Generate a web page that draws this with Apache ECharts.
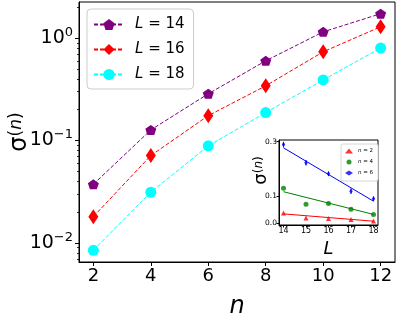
<!DOCTYPE html>
<html><head><meta charset="utf-8">
<script src="https://cdn.jsdelivr.net/npm/echarts@6/dist/echarts.min.js"></script>
<style>html,body{margin:0;padding:0;background:#fff}#c{width:398px;height:313px}</style>
</head><body><div id="c"></div>
<script>
// ---- main plot data ----
const nValues = [2, 4, 6, 8, 10, 12];
const sigmaL14 = [0.0374, 0.127, 0.286, 0.60, 1.15, 1.73];
const sigmaL16 = [0.0181, 0.0714, 0.175, 0.342, 0.735, 1.29];
const sigmaL18 = [0.0085, 0.0313, 0.0888, 0.1875, 0.391, 0.80];
const mainLegend = ['14', '16', '18'];
const xTicks = [2, 4, 6, 8, 10, 12];
const yDecades = [-2, -1, 0];
// ---- inset data ----
const Lvalues = [14, 15, 16, 17, 18];
const insetN2 = [0.036, 0.018, 0.016, 0.012, 0.007];
const insetN4 = [0.128, 0.069, 0.071, 0.050, 0.031];
const insetN6 = [0.289, 0.222, 0.181, 0.117, 0.089];
const insetN6err = [0.010, 0.010, 0.008, 0.010, 0.008];
const fitL = [14, 18];
const fitN2 = [0.033, 0.006];
const fitN4 = [0.115, 0.031];
const fitN6 = [0.277, 0.080];
const insetXTicks = [14, 15, 16, 17, 18];
const insetYTicks = [0, 0.1, 0.3];
const insetLegend = ['2', '4', '6'];

const lg = Math.log10;
const toLog = arr => arr.map((v, i) => [nValues[i], lg(v)]);
const pair = (xs, ys) => ys.map((v, i) => [xs[i], v]);
const minor = [];
for (let d = -3; d <= 0; d++) for (let k = 2; k <= 9; k++) {
  const v = lg(k * Math.pow(10, d));
  if (v > lg(0.00653) && v < lg(2.25)) minor.push(v);
}
const FONT = 'DejaVu Sans';
const pentagon = 'path://M0,-1 L0.951,-0.309 L0.588,0.809 L-0.588,0.809 L-0.951,-0.309 Z';

const chart = echarts.init(document.getElementById('c'), null, {renderer: 'canvas'});
chart.setOption({
  animation: false,
  textStyle: {fontFamily: FONT, color: '#000'},
  grid: [
    {left: 79, top: 2, right: 3, bottom: 51, show: true, borderColor: '#000', borderWidth: 1, backgroundColor: '#fff',
     containLabel: false, outerBoundsMode: 'none'},
    {left: 279, top: 140, width: 99, height: 85, show: true, borderColor: '#000', borderWidth: 1, backgroundColor: '#fff', z: 5,
     containLabel: false, outerBoundsMode: 'none'}
  ],
  xAxis: [
    {gridIndex: 0, type: 'value', min: 1.5, max: 12.5, nameMoveOverlap: false,
     axisLine: {onZero: false, lineStyle: {color: '#000', width: 1}},
     axisTick: {length: 4, lineStyle: {color: '#000'}, customValues: xTicks},
     axisLabel: {fontSize: 18, color: '#000', margin: 5, customValues: xTicks},
     splitLine: {show: false},
     name: 'n', nameLocation: 'middle', nameGap: 33,
     nameTextStyle: {fontSize: 24, fontStyle: 'italic', color: '#000'}},
    {gridIndex: 1, type: 'value', min: 13.8, max: 18.2, z: 6, nameMoveOverlap: false,
     axisLine: {onZero: false, lineStyle: {color: '#000', width: 1}},
     axisTick: {length: 2.5, lineStyle: {color: '#000'}, customValues: insetXTicks},
     axisLabel: {fontSize: 8, color: '#000', margin: 2, customValues: insetXTicks},
     splitLine: {show: false},
     name: 'L', nameLocation: 'middle', nameGap: 15,
     nameTextStyle: {fontSize: 18, fontStyle: 'italic', color: '#000'}}
  ],
  yAxis: [
    {gridIndex: 0, type: 'value', position: 'left', min: lg(0.00653), max: lg(2.25), nameMoveOverlap: false,
     axisLine: {show: true, onZero: false, lineStyle: {color: '#000', width: 1}},
     axisTick: {show: true, length: 4, lineStyle: {color: '#000'}, customValues: yDecades},
     axisLabel: {margin: 6, customValues: yDecades,
       formatter: v => '{b|10}{e|' + (Math.round(v) < 0 ? '\u2212' : '') + Math.abs(Math.round(v)) + '}',
       rich: {b: {fontSize: 19, fontFamily: FONT, color: '#000'},
              e: {fontSize: 13, fontFamily: FONT, color: '#000', padding: [0, 0, 11, 0]}}},
     splitLine: {show: false},
     name: '{s|\u03c3}{p|(}{i|n}{p|)}', nameLocation: 'middle', nameGap: 47, nameRotate: 90,
     nameTextStyle: {rich: {
       s: {fontSize: 24, fontFamily: FONT, color: '#000'},
       p: {fontSize: 17, fontFamily: FONT, color: '#000', padding: [0, 0, 6, 0]},
       i: {fontSize: 17, fontFamily: FONT, fontStyle: 'italic', color: '#000', padding: [0, 0, 6, 0]}}}},
    {gridIndex: 0, type: 'value', position: 'left', offset: 0, min: lg(0.00653), max: lg(2.25),
     axisLine: {show: false, onZero: false},
     axisTick: {show: true, length: 2, lineStyle: {color: '#000', width: 0.8}, customValues: minor},
     axisLabel: {show: false}, splitLine: {show: false}},
    {gridIndex: 1, type: 'value', position: 'left', min: -0.008, max: 0.306, z: 6, nameMoveOverlap: false,
     axisLine: {show: true, onZero: false, lineStyle: {color: '#000', width: 1}},
     axisTick: {show: true, length: 2.5, lineStyle: {color: '#000'}, customValues: insetYTicks},
     axisLabel: {fontSize: 7.5, color: '#000', margin: 2, customValues: insetYTicks, formatter: v => v.toFixed(1)},
     splitLine: {show: false},
     name: '{s|\u03c3}{p|(}{i|n}{p|)}', nameLocation: 'middle', nameGap: 9, nameRotate: 90,
     nameTextStyle: {padding: [0, 0, 0, 24], rich: {
       s: {fontSize: 18, fontFamily: FONT, color: '#000'},
       p: {fontSize: 12, fontFamily: FONT, color: '#000', padding: [0, 0, 5, 0]},
       i: {fontSize: 12, fontFamily: FONT, fontStyle: 'italic', color: '#000', padding: [0, 0, 5, 0]}}}}
  ],
  legend: [
    {data: ['L14', 'L16', 'L18'], orient: 'vertical', left: 87, top: 9,
     itemWidth: 30, itemHeight: 14, itemGap: 10, padding: [8, 9, 7, 6],
     backgroundColor: 'rgba(255,255,255,0.85)', borderColor: '#cccccc', borderWidth: 1, borderRadius: 4,
     formatter: name => '{i|L} = ' + mainLegend[['L14','L16','L18'].indexOf(name)],
     textStyle: {fontSize: 15, color: '#000', fontFamily: FONT, padding: [0, 0, 0, 6],
       rich: {i: {fontSize: 15, fontStyle: 'italic', fontFamily: FONT, color: '#000'}}}},
    {data: ['n2', 'n4', 'n6'], orient: 'vertical', left: 341, top: 144, z: 10,
     itemWidth: 8, itemHeight: 5, itemGap: 5, padding: [4, 5, 5, 4],
     backgroundColor: '#fff', borderColor: '#cccccc', borderWidth: 0.8, borderRadius: 2,
     formatter: name => '{i|n} = ' + insetLegend[['n2','n4','n6'].indexOf(name)],
     textStyle: {fontSize: 5.5, color: '#000', fontFamily: FONT,
       rich: {i: {fontSize: 5.5, fontStyle: 'italic', fontFamily: FONT, color: '#000'}}}}
  ],
  series: [
    {name: 'L14', type: 'line', xAxisIndex: 0, yAxisIndex: 0, data: toLog(sigmaL14),
     color: '#800080', lineStyle: {type: [4, 2], width: 1}, symbol: pentagon, symbolSize: [11, 10],
     itemStyle: {color: '#800080'}},
    {name: 'L16', type: 'line', xAxisIndex: 0, yAxisIndex: 0, data: toLog(sigmaL16),
     color: '#ff0000', lineStyle: {type: [4, 2], width: 1}, symbol: 'diamond', symbolSize: [10, 15],
     itemStyle: {color: '#ff0000'}},
    {name: 'L18', type: 'line', xAxisIndex: 0, yAxisIndex: 0, data: toLog(sigmaL18),
     color: '#00ffff', lineStyle: {type: [4, 2], width: 1}, symbol: 'circle', symbolSize: 11,
     itemStyle: {color: '#00ffff'}},
    {name: 'fit2', type: 'line', xAxisIndex: 1, yAxisIndex: 2, data: pair(fitL, fitN2), showSymbol: false,
     lineStyle: {color: '#ff0000', width: 1}, z: 7},
    {name: 'fit4', type: 'line', xAxisIndex: 1, yAxisIndex: 2, data: pair(fitL, fitN4), showSymbol: false,
     lineStyle: {color: '#008000', width: 1}, z: 7},
    {name: 'fit6', type: 'line', xAxisIndex: 1, yAxisIndex: 2, data: pair(fitL, fitN6), showSymbol: false,
     lineStyle: {color: '#0000ff', width: 1}, z: 7},
    {name: 'n6err', type: 'custom', xAxisIndex: 1, yAxisIndex: 2, z: 8,
     data: Lvalues.map((L, i) => [L, insetN6[i] - insetN6err[i], insetN6[i] + insetN6err[i]]),
     renderItem: (params, api) => {
       const a = api.coord([api.value(0), api.value(1)]);
       const b = api.coord([api.value(0), api.value(2)]);
       return {type: 'line', shape: {x1: a[0], y1: a[1], x2: b[0], y2: b[1]},
               style: {stroke: '#0000ff', lineWidth: 1}};
     }},
    {name: 'n2', type: 'scatter', xAxisIndex: 1, yAxisIndex: 2, data: pair(Lvalues, insetN2),
     symbol: 'triangle', symbolSize: 5, itemStyle: {color: '#ff0000'}, z: 9},
    {name: 'n4', type: 'scatter', xAxisIndex: 1, yAxisIndex: 2, data: pair(Lvalues, insetN4),
     symbol: 'circle', symbolSize: 5, itemStyle: {color: '#008000'}, z: 9},
    {name: 'n6', type: 'scatter', xAxisIndex: 1, yAxisIndex: 2, data: pair(Lvalues, insetN6),
     symbol: 'diamond', symbolSize: [3.5, 5.5], itemStyle: {color: '#0000ff'}, z: 9}
  ]
});
</script></body></html>
